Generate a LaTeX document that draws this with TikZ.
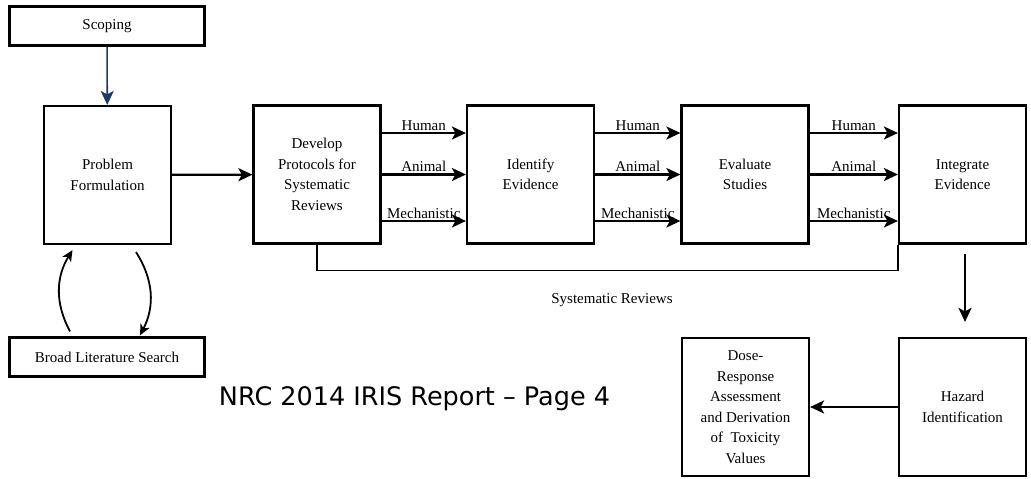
\documentclass[tikz,border=0pt]{standalone}
\usepackage{fontspec}
\setmainfont{Liberation Serif}
\newfontfamily\notefont{DejaVu Sans}
\usetikzlibrary{arrows.meta}
\definecolor{navy}{RGB}{31,56,100}

\begin{document}
\begin{tikzpicture}[x=1pt,y=-1pt,
    box/.style={draw=black,line width=2.2pt,fill=white,align=center,inner sep=2pt,
      font=\fontsize{15}{20.5}\selectfont,minimum width=127pt,minimum height=138pt},
    wide/.style={box,minimum width=195pt,minimum height=39pt},
    flow/.style={-{Stealth[length=14pt,width=13pt,inset=3.5pt]},draw=black,line width=2.2pt},
    loop/.style={-{Stealth[length=11pt,width=10pt,inset=3pt]},draw=black,line width=1.8pt},
    chan/.style={font=\fontsize{15}{18}\selectfont,above,inner sep=1.5pt},
    note/.style={font=\fontsize{15}{18}\selectfont}
  ]
    \useasboundingbox (0,0) rectangle (1031,479);
    \node[wide] (scoping) at (107,26) {Scoping};
    \node[box] (problem) at (107.5,175) {Problem\\Formulation};
    \node[wide] (search) at (107,357) {Broad Literature Search};
    \node[box] (protocols) at (317,174.5) {Develop\\Protocols for\\Systematic\\Reviews};
    \node[box] (identify) at (530.5,174.5) {Identify\\Evidence};
    \node[box] (evaluate) at (745,174.5) {Evaluate\\Studies};
    \node[box] (integrate) at (962.5,174.5) {Integrate\\Evidence};
    \node[box] (hazard) at (962.5,407) {Hazard\\Identification};
    \node[box] (dose) at (745.5,407) {Dose-\\Response\\Assessment\\and Derivation\\of~ Toxicity\\Values};
    \draw[flow,draw=navy,line width=1.6pt] (scoping) -- (problem);
    \draw[loop] ([xshift=-37pt,yshift=5pt]search.north) to[bend left=30] ([xshift=-35pt,yshift=-5pt]problem.south);
    \draw[loop] ([xshift=28.5pt,yshift=-7pt]problem.south) to[bend left=30] ([xshift=33pt,yshift=1pt]search.north);
    \draw[flow] (problem) -- (protocols);
    \foreach \a/\b in {protocols/identify,identify/evaluate,evaluate/integrate}
      \foreach \lbl/\dy in {Human/41.5,Animal/0,Mechanistic/-46.5}
        \draw[flow] ([yshift=\dy pt]\a.east) -- node[chan]{\lbl} ([yshift=\dy pt]\b.west);
    \draw[line width=1.6pt] (protocols.south) -- ++(0,26) -| (integrate.south west);
    \node[note] (sysrev) at (612,300) {Systematic Reviews};
    \draw[flow] ([xshift=2.5pt,yshift=-9pt]integrate.south) -- ([xshift=2.5pt,yshift=15pt]hazard.north);
    \draw[flow] (hazard) -- (dose);
    \node[font=\notefont\fontsize{25.5}{30}\selectfont,anchor=base] (caption) at (414.5,405) {NRC 2014 IRIS Report – Page 4};
  \end{tikzpicture}
\end{document}
